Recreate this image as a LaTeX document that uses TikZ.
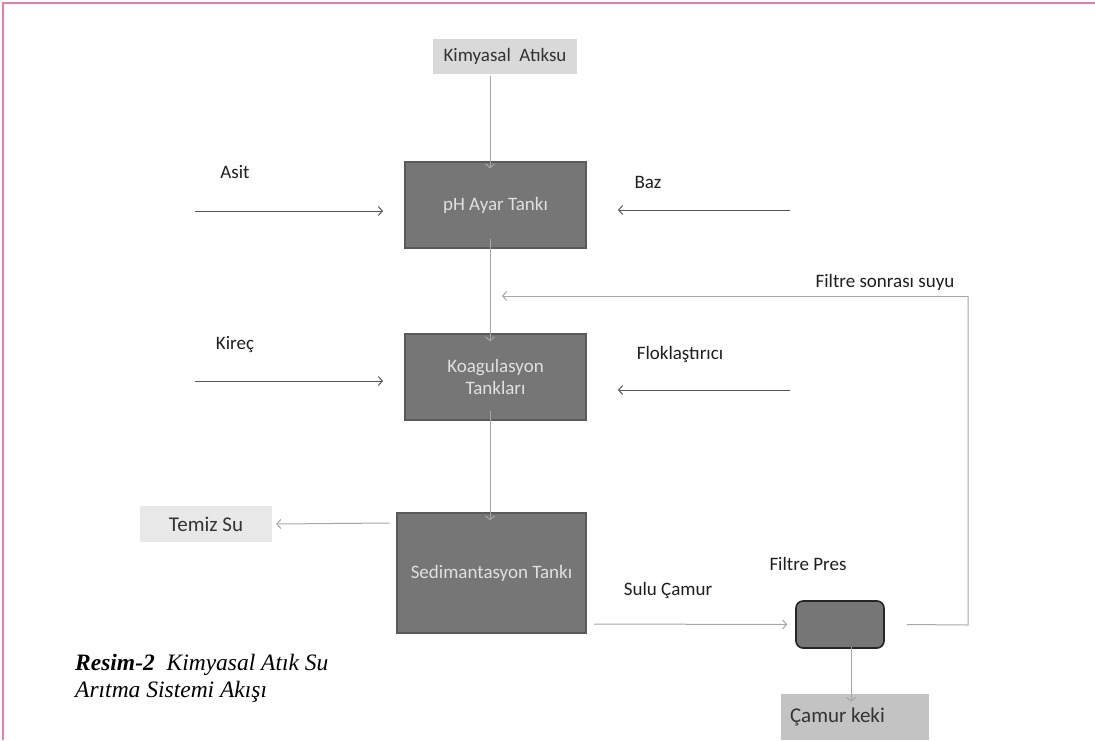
\documentclass[tikz,border=0pt]{standalone}
\usepackage{fontspec}
\setmainfont{Carlito}
\newfontfamily\capfont{Liberation Serif}
\usetikzlibrary{arrows.meta}
\definecolor{pinkline}{HTML}{E87AB0}
\definecolor{tankfill}{HTML}{767676}
\definecolor{tankdraw}{HTML}{5A5A5A}
\definecolor{lightbox}{HTML}{D9D9D9}
\definecolor{paleline}{HTML}{A6A6A6}
\definecolor{darkline}{HTML}{555555}
\definecolor{labeltext}{HTML}{1E1E1E}
\tikzset{
  tank/.style={draw=tankdraw, line width=1.2pt, fill=tankfill, text=white!88!black, font=\fontsize{19}{22}\selectfont, align=center, inner sep=0pt},
  outbox/.style={fill=lightbox, text=black!80, font=\fontsize{21}{24}\selectfont, inner sep=0pt},
  lbl/.style={text=labeltext, font=\fontsize{19}{22}\selectfont, inner sep=0pt},
  pale/.style={draw=paleline, line width=1pt, -{Straight Barb[length=4pt,width=9pt]}},
  dark/.style={draw=darkline, line width=1pt, -{Straight Barb[length=4pt,width=9pt]}},
  paleplain/.style={draw=paleline, line width=1pt},
  capstyle/.style={anchor=base west, inner sep=0pt, font=\capfont\fontsize{23.5}{26}\selectfont\itshape},
}
\begin{document}
\begin{tikzpicture}[x=1pt,y=-1pt]
\useasboundingbox (0,0) rectangle (1095,740);
% frame
\draw[pinkline, line width=1.5pt] (3,740) -- (3,3) -- (1095,3);
% boxes
\node[outbox, font=\fontsize{19}{22}\selectfont, minimum width=144pt, minimum height=35pt] (in) at (505,56) {Kimyasal\ \ Atıksu};
\node[tank, minimum width=181pt, minimum height=86pt] (ph) at (495.5,205) {pH Ayar Tankı};
\node[tank, minimum width=181pt, minimum height=86pt] (koag) at (495.5,377) {Koagulasyon\\Tankları};
\node[tank, minimum width=189pt, minimum height=120pt] (sed) at (491.5,573) {Sedimantasyon Tankı};
\node[outbox, fill=lightbox!60!white, minimum width=132pt, minimum height=36pt] (temiz) at (206,524) {Temiz Su};
\node[draw=black!85, line width=1.6pt, fill=tankfill, rounded corners=7pt, minimum width=88pt, minimum height=47pt, inner sep=0pt] (fp) at (840,624.5) {};
\node[outbox, fill=lightbox!90!black, minimum width=148pt, minimum height=46pt] (kek) at (855,717) {\makebox[130pt][l]{\raisebox{3pt}{Çamur keki}}};
% labels
\node[lbl] (asit) at (235,172) {Asit};
\node[lbl] (baz) at (648,182) {Baz};
\node[lbl] (kirec) at (235,345) {Kireç};
\node[lbl] (flok) at (680,354) {Floklaştırıcı};
\node[lbl] (fss) at (885,282) {Filtre sonrası suyu};
\node[lbl] (sulu) at (668,590) {Sulu Çamur};
\node[lbl] (fpl) at (808,564) {Filtre Pres};
% caption
\node[capstyle] (cap1) at (75,670) {\textbf{Resim-2}\ \ Kimyasal Atık Su};
\node[capstyle] (cap2) at (75,697) {Arıtma Sistemi Akışı};
% coordinates
\coordinate (asitS) at (195,211);
\coordinate (asitE) at (383,211);
\coordinate (bazS) at (790,210);
\coordinate (bazE) at (618,210);
\coordinate (kirS) at (195,381);
\coordinate (kirE) at (383,381);
\coordinate (flS) at (790,390);
\coordinate (flE) at (618,390);
\coordinate (c1) at (968,625);
\coordinate (c2) at (968,296);
\coordinate (c3) at (502,296);
% connectors
\draw[pale] ([yshift=-2pt]in.south -| 490,0) -- ([yshift=-7pt]ph.north -| 490,0);
\draw[pale] ([yshift=10pt]ph.south -| 490,0) -- ([yshift=-8pt]koag.north -| 490,0);
\draw[pale] ([yshift=10pt]koag.south -| 490,0) -- ([yshift=-8pt]sed.north -| 490,0);
\draw[dark] (asitS) -- (asitE);
\draw[dark] (bazS) -- (bazE);
\draw[dark] (kirS) -- (kirE);
\draw[dark] (flS) -- (flE);
\draw[pale] ([xshift=-7pt]sed.north west |- 0,523) -- ([xshift=4pt]temiz.east);
\draw[pale] (594,624) -- ([xshift=-8pt]fp.west);
\draw[paleplain] ([xshift=22pt]fp.east) -- (c1) -- (c2);
\draw[pale] (c2) -- (c3);
\draw[pale] ([yshift=2pt]fp.south -| 851,0) -- ([yshift=-8pt]kek.north -| 851,0);
\end{tikzpicture}
\end{document}
